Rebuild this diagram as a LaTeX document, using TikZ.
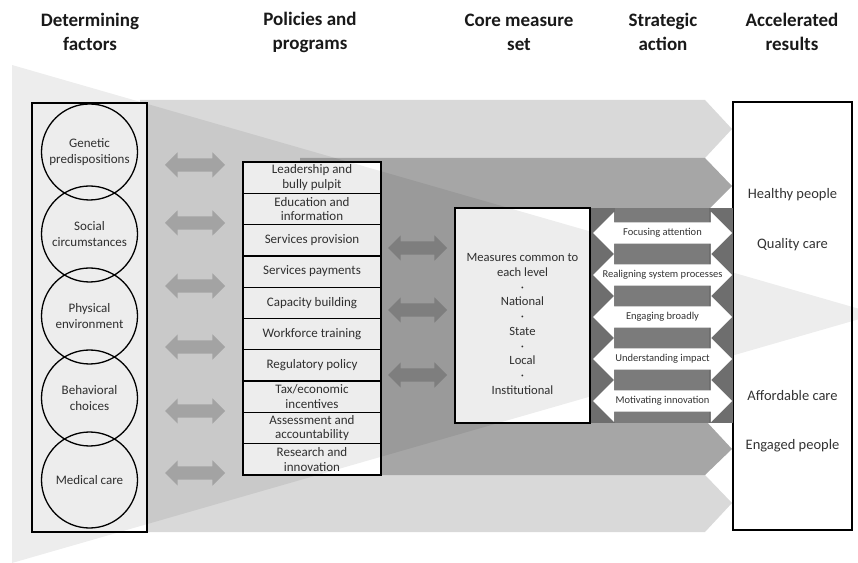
\documentclass[tikz,border=0pt]{standalone}
\usepackage{fontspec}
\setmainfont{Carlito}
\usepackage{tikz}
\usetikzlibrary{shapes.arrows}
\definecolor{bandlight}{HTML}{D9D9D9}
\definecolor{banddark}{HTML}{A6A6A6}
\definecolor{sidegray}{HTML}{B0B0B0}
\definecolor{midgray}{HTML}{888888}
\definecolor{actdark}{HTML}{6E6E6E}
\definecolor{actmid}{HTML}{7B7B7B}
\definecolor{txt}{HTML}{333333}
\tikzstyle{heading} = [align=center, font=\fontsize{19}{24}\selectfont\bfseries, text=black!90]
\tikzstyle{frame} = [rectangle, draw=black, line width=1.3pt, fill=white, inner sep=0pt]
\tikzstyle{factor} = [circle, draw=black, line width=1.3pt, minimum size=96pt, inner sep=0pt,
align=center, text=txt, font=\fontsize{13}{15.5}\selectfont]
\tikzstyle{policy} = [rectangle, draw=black, line width=1.3pt, fill=white, minimum width=138pt,
minimum height=31.3pt, inner sep=0pt, align=center, text=txt, font=\fontsize{13}{14.5}\selectfont]
\tikzstyle{link} = [double arrow, inner sep=0pt, text height=13pt, text depth=0pt,
double arrow head extend=6pt, minimum height=60pt]
\tikzstyle{action} = [double arrow, fill=white, inner sep=0pt, text height=21pt, text depth=0pt,
double arrow head extend=10.5pt, minimum height=139pt]
\tikzstyle{actlabel} = [text=txt, font=\fontsize{10.5}{12}\selectfont, inner sep=0pt]
\tikzstyle{coretxt} = [align=center, text=txt, font=\fontsize{12.6}{14.7}\selectfont]
\tikzstyle{result} = [fill=white, inner sep=2pt, text=txt, font=\fontsize{14.5}{16}\selectfont]
\begin{document}
\begin{tikzpicture}[x=1pt,y=1pt]
    \useasboundingbox (0,0) rectangle (858,562);
    \clip (0,0) rectangle (858,562);
    \fill [bandlight] (140,462) -- (705,462) -- (732,433) -- (705,404) -- (705,87)
        -- (732,59) -- (705,30) -- (140,30) -- cycle;
    \fill [banddark] (300,404) -- (705,404) -- (732,376) -- (705,349) -- (705,142)
        -- (732,113) -- (705,87) -- (300,87) -- cycle;

    \node (factors) [frame, minimum width=115pt, minimum height=429pt] at (89.5,244.5) {};
    \node (genetic) [factor] at (89.5,410) {Genetic\\predispositions};
    \node (social) [factor] at (89.5,328) {Social\\circumstances};
    \node (physical) [factor] at (89.5,246) {Physical\\environment};
    \node (behavior) [factor] at (89.5,164) {Behavioral\\choices};
    \node (medical) [factor] at (89.5,82) {Medical care};

    \node (l1) [link, fill=sidegray] at (195,397) {};
    \node (l2) [link, fill=sidegray] at (195,339) {};
    \node (l3) [link, fill=sidegray] at (195,276) {};
    \node (l4) [link, fill=sidegray] at (195,215) {};
    \node (l5) [link, fill=sidegray] at (195,151) {};
    \node (l6) [link, fill=sidegray] at (195,89) {};

    \node (p1) [policy] at (312,384.35) {Leadership and\\bully pulpit};
    \node (p2) [policy, below of=p1, node distance=31.3pt] {Education and\\information};
    \node (p3) [policy, below of=p2, node distance=31.3pt] {Services provision};
    \node (p4) [policy, below of=p3, node distance=31.3pt] {Services payments};
    \node (p5) [policy, below of=p4, node distance=31.3pt] {Capacity building};
    \node (p6) [policy, below of=p5, node distance=31.3pt] {Workforce training};
    \node (p7) [policy, below of=p6, node distance=31.3pt] {Regulatory policy};
    \node (p8) [policy, below of=p7, node distance=31.3pt] {Tax/economic\\incentives};
    \node (p9) [policy, below of=p8, node distance=31.3pt] {Assessment and\\accountability};
    \node (p10) [policy, below of=p9, node distance=31.3pt] {Research and\\innovation};

    \node (m1) [link, fill=midgray, minimum height=59pt] at (417.5,314) {};
    \node (m2) [link, fill=midgray, minimum height=59pt] at (417.5,252) {};
    \node (m3) [link, fill=midgray, minimum height=59pt] at (417.5,187) {};

    \node (core) [frame, minimum width=135pt, minimum height=215pt] at (522.5,246.5) {};
    \node (coretext) [coretxt] at (522.5,238) {Measures common to\\each level\\·\\National\\·\\State\\·\\Local\\·\\Institutional};

    \node (results) [frame, minimum width=119pt, minimum height=428pt] at (792.5,246) {};

    \fill [black, opacity=0.07] (12,497) -- (877,248) -- (12,-1) -- cycle;

    \node (strategy) [rectangle, fill=actdark, inner sep=0pt, minimum width=142pt,
        minimum height=215pt] at (662,246.5) {};
    \fill [actmid] (615,354) rectangle (709,139);
    \node (s1) [action] at (662.5,329) {};
    \node (s2) [action] at (662.5,287) {};
    \node (s3) [action] at (662.5,245) {};
    \node (s4) [action] at (662.5,203) {};
    \node (s5) [action] at (662.5,161) {};
    \node [actlabel] at (s1) {Focusing attention};
    \node [actlabel] at (s2) {Realigning system processes};
    \node [actlabel] at (s3) {Engaging broadly};
    \node [actlabel] at (s4) {Understanding impact};
    \node [actlabel] at (s5) {Motivating innovation};

    \node (healthy) [result] at (792.5,367) {Healthy people};
    \node (quality) [result] at (792.5,317) {Quality care};
    \node (afford) [result] at (792.5,166) {Affordable care};
    \node (engaged) [result] at (792.5,116) {Engaged people};

    \node (h1) [heading] at (90,530) {Determining\\factors};
    \node (h2) [heading] at (310,530) {Policies and\\programs};
    \node (h3) [heading] at (519,530) {Core measure\\set};
    \node (h4) [heading] at (663,530) {Strategic\\action};
    \node (h5) [heading] at (792,530) {Accelerated\\results};
\end{tikzpicture}
\end{document}
